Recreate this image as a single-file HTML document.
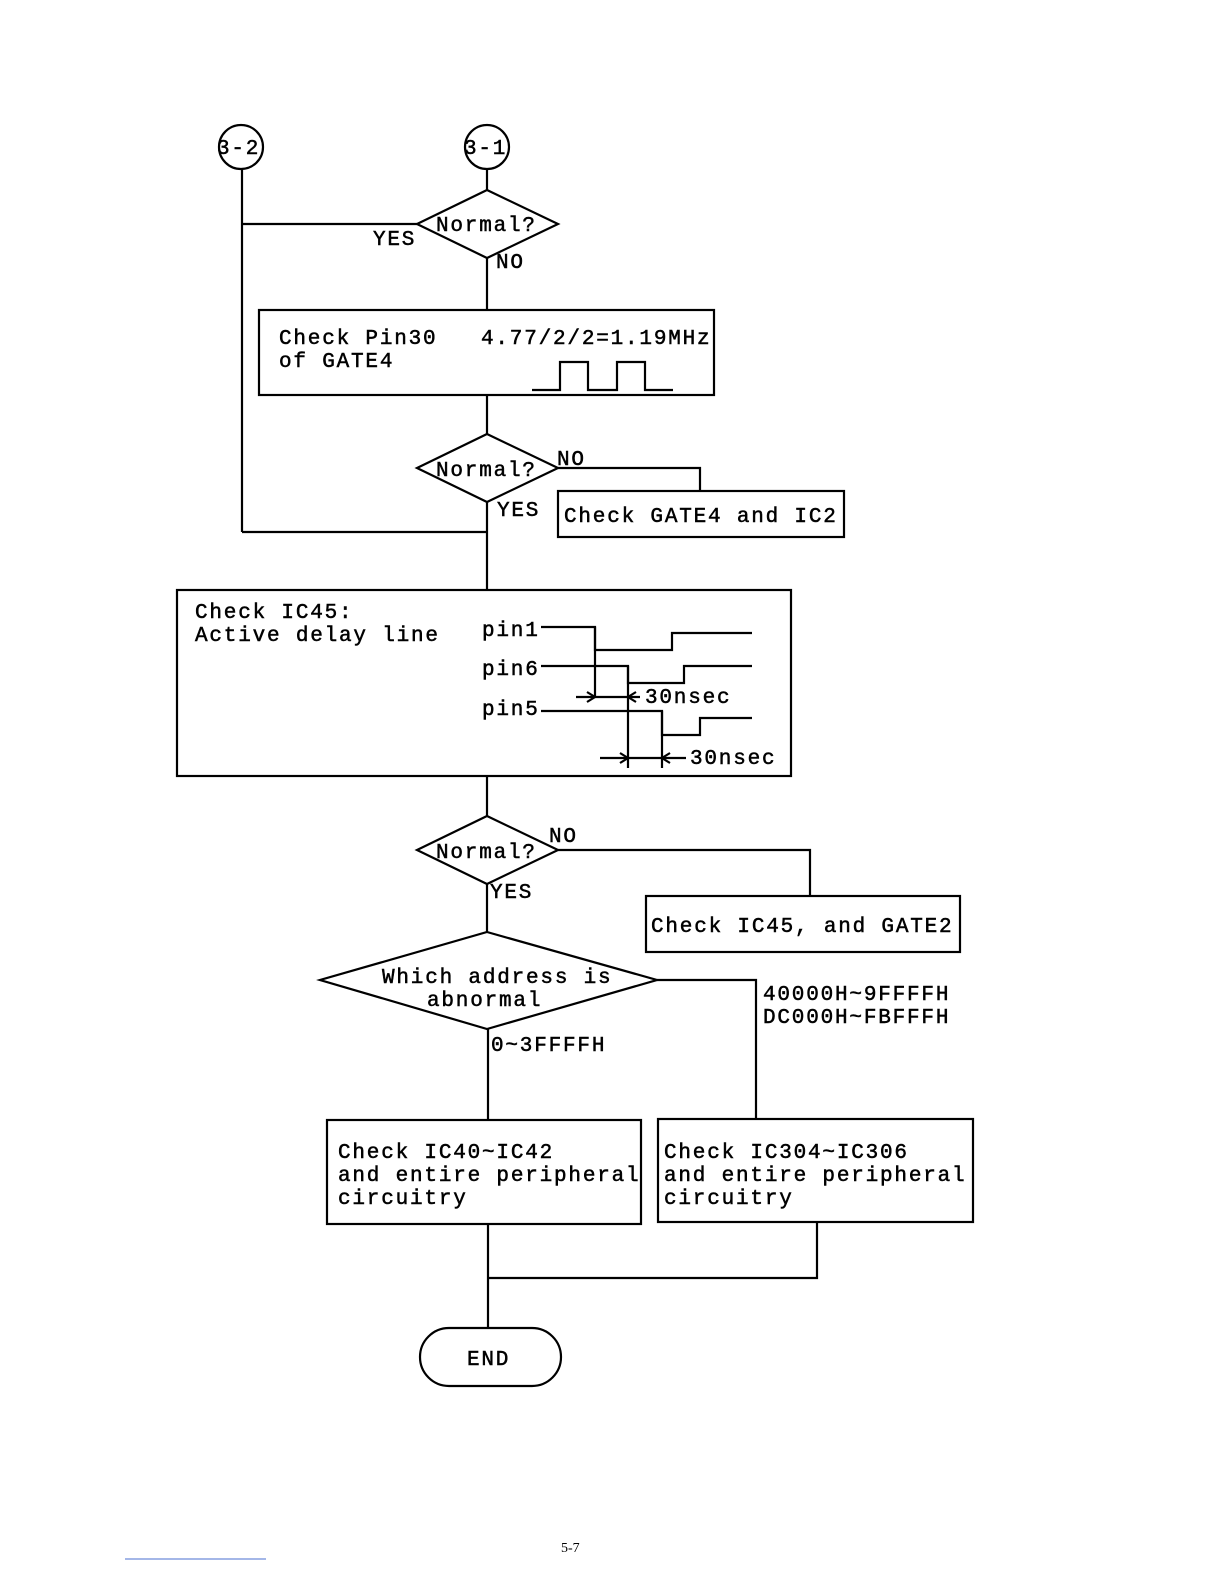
<!DOCTYPE html>
<html><head><meta charset="utf-8"><style>
html,body{margin:0;padding:0;background:#fff;overflow:hidden;width:1224px;height:1584px}
svg{display:block}
text{font-family:"Liberation Mono",monospace;font-size:21px;letter-spacing:1.8px;fill:#000;stroke:#000;stroke-width:0.5}
</style></head><body>
<svg width="1224" height="1584" viewBox="0 0 1224 1584" xmlns="http://www.w3.org/2000/svg">
<g fill="none" stroke="#000" stroke-width="2.2">
<circle cx="241" cy="147" r="22"/>
<circle cx="487" cy="147" r="22"/>
<line x1="242" y1="169" x2="242" y2="532"/>
<line x1="487" y1="169" x2="487" y2="190"/>
<polygon points="487,190 558,224 487,258 417,224"/>
<line x1="242" y1="224" x2="417" y2="224"/>
<line x1="487" y1="258" x2="487" y2="310"/>
<rect x="259" y="310" width="455" height="85"/>
<polyline points="532,390 560,390 560,362 588,362 588,390 617,390 617,362 645,362 645,390 673,390"/>
<line x1="487" y1="395" x2="487" y2="434"/>
<polygon points="487,434 558,468 487,502 417,468"/>
<polyline points="558,468 700,468 700,491"/>
<rect x="558" y="491" width="286" height="46"/>
<line x1="487" y1="502" x2="487" y2="590"/>
<line x1="242" y1="532" x2="487" y2="532"/>
<rect x="177" y="590" width="614" height="186"/>
<polyline points="541,627 595,627 595,650 672,650 672,633 752,633"/>
<polyline points="541,666 628,666 628,683 684,683 684,666 752,666"/>
<polyline points="541,711 662,711 662,735 700,735 700,718 752,718"/>
<line x1="595" y1="627" x2="595" y2="697"/>
<line x1="628" y1="666" x2="628" y2="768"/>
<line x1="662" y1="711" x2="662" y2="768"/>
<line x1="576" y1="697" x2="640" y2="697"/>
<polyline points="587,692 595,697 587,702"/>
<polyline points="636,692 628,697 636,702"/>
<line x1="600" y1="758" x2="686" y2="758"/>
<polyline points="620,753 628,758 620,763"/>
<polyline points="670,753 662,758 670,763"/>
<line x1="487" y1="776" x2="487" y2="816"/>
<polygon points="487,816 558,850 487,884 417,850"/>
<polyline points="558,850 810,850 810,896"/>
<rect x="646" y="896" width="314" height="56"/>
<line x1="487" y1="884" x2="487" y2="932"/>
<polygon points="487,932 657,980 487,1029 320,980"/>
<polyline points="657,980 756,980 756,1119"/>
<line x1="488" y1="1029" x2="488" y2="1120"/>
<rect x="327" y="1120" width="314" height="104"/>
<rect x="658" y="1119" width="315" height="103"/>
<line x1="488" y1="1224" x2="488" y2="1328"/>
<polyline points="817,1222 817,1278 488,1278"/>
<rect x="420" y="1328" width="141" height="58" rx="29"/>
</g>
<line x1="125" y1="1559" x2="266" y2="1559" stroke="#4a6fd0" stroke-width="1"/>
<text x="217" y="154">3-2</text>
<text x="464" y="154">3-1</text>
<text x="436" y="231">Normal?</text>
<text x="373" y="245">YES</text>
<text x="496" y="268">NO</text>
<text x="279" y="344">Check Pin30</text>
<text x="279" y="367">of GATE4</text>
<text x="481" y="344">4.77/2/2=1.19MHz</text>
<text x="436" y="476">Normal?</text>
<text x="557" y="465">NO</text>
<text x="497" y="516">YES</text>
<text x="564" y="522">Check GATE4 and IC2</text>
<text x="195" y="618">Check IC45:</text>
<text x="195" y="641">Active delay line</text>
<text x="482" y="636">pin1</text>
<text x="482" y="675">pin6</text>
<text x="482" y="715">pin5</text>
<text x="645" y="703">30nsec</text>
<text x="690" y="764">30nsec</text>
<text x="436" y="858">Normal?</text>
<text x="549" y="842">NO</text>
<text x="490" y="898">YES</text>
<text x="651" y="932">Check IC45, and GATE2</text>
<text x="382" y="983">Which address is</text>
<text x="427" y="1006">abnormal</text>
<text x="763" y="1000">40000H~9FFFFH</text>
<text x="763" y="1023">DC000H~FBFFFH</text>
<text x="491" y="1051">0~3FFFFH</text>
<text x="338" y="1158">Check IC40~IC42</text>
<text x="338" y="1181">and entire peripheral</text>
<text x="338" y="1204">circuitry</text>
<text x="664" y="1158">Check IC304~IC306</text>
<text x="664" y="1181">and entire peripheral</text>
<text x="664" y="1204">circuitry</text>
<text x="467" y="1365">END</text>
<text x="561" y="1552" style="font-family:'Liberation Serif',serif;font-size:14px;letter-spacing:0;stroke-width:0">5-7</text>
</svg>
</body></html>
